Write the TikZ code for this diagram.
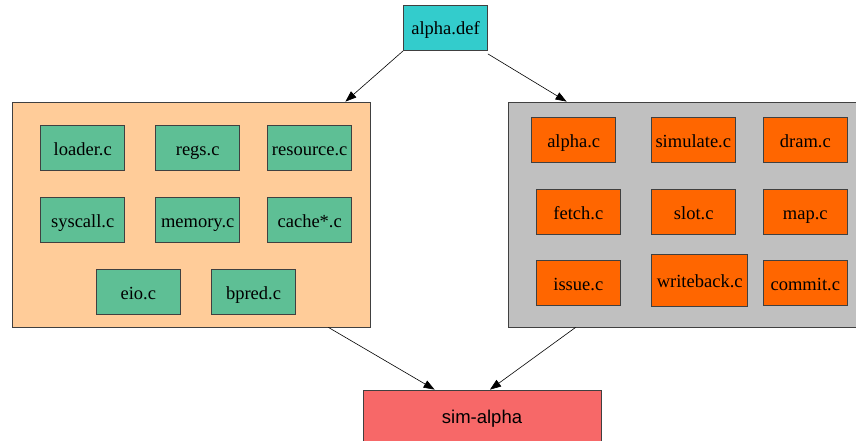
\documentclass[tikz,border=0pt]{standalone}
\usepackage{fontspec}
\setmainfont{Liberation Serif}
\newfontfamily\helv{Liberation Sans}
\usepackage{tikz}
\usetikzlibrary{arrows.meta}

\definecolor{defcol}{HTML}{33CCCC}
\definecolor{peach}{HTML}{FFCC99}
\definecolor{srcgreen}{HTML}{5EBF95}
\definecolor{clgray}{HTML}{C0C0C0}
\definecolor{srcorange}{HTML}{FF6600}
\definecolor{simred}{HTML}{F76868}

\begin{document}
\begin{tikzpicture}[x=1pt, y=-1pt,
  box/.style={draw=black!75, line width=0.8pt, inner sep=0pt, minimum width=84pt, minimum height=45pt,
    text height=15pt, text depth=1pt, font=\fontsize{18.5}{22}\selectfont},
  clus/.style={draw=black!75, line width=0.8pt, inner sep=0pt},
  common/.style={box, fill=srcgreen},
  core/.style={box, fill=srcorange},
  edge/.style={-{Triangle[length=11pt,width=8pt]}, line width=0.6pt}]
 \useasboundingbox (0,0) rectangle (856,441);

 % clusters
 \node[clus, fill=peach, minimum width=358pt, minimum height=225pt] (lclust) at (191,214.5) {};
 \node[clus, fill=clgray, minimum width=350pt, minimum height=225pt] (rclust) at (683,214.5) {};

 \node[box, fill=defcol] (adef) at (445.5,28) {alpha.def};
 \node[box, fill=simred, minimum width=238pt, minimum height=52pt, font=\helv\fontsize{18.5}{22}\selectfont] (sim) at (482,416) {sim-alpha};

 % left cluster files
 \node[common] (loader) at (82.7,148) {loader.c};
 \node[common] (regs) at (197.7,148) {regs.c};
 \node[common] (resource) at (309.7,148) {resource.c};
 \node[common] (syscall) at (82.7,220) {syscall.c};
 \node[common] (memory) at (197.7,220) {memory.c};
 \node[common] (cache) at (309.7,220) {cache*.c};
 \node[common] (eio) at (138.3,292) {eio.c};
 \node[common] (bpred) at (253.5,292) {bpred.c};

 % right cluster files
 \node[core] (alphac) at (573.7,140.3) {alpha.c};
 \node[core] (simulate) at (693.3,140.3) {simulate.c};
 \node[core] (dram) at (805.3,140.3) {dram.c};
 \node[core] (fetch) at (578.3,212.3) {fetch.c};
 \node[core] (slot) at (693.7,212.3) {slot.c};
 \node[core] (map) at (805.3,212.3) {map.c};
 \node[core] (issue) at (578.3,283) {issue.c};
 \node[core, minimum width=96pt, minimum height=52pt] (writeback) at (699.7,280) {writeback.c};
 \node[core] (commit) at (805.3,283) {commit.c};

 \draw[edge] (adef.south west) -- ([xshift=-25pt]lclust.north east);
 \draw[edge] ([yshift=-3pt]adef.south east) -- ([xshift=59pt]rclust.north west);
 \draw[edge] ([xshift=-42pt]lclust.south east) -- ([xshift=72pt]sim.north west);
 \draw[edge] ([xshift=68pt]rclust.south west) -- ([xshift=8pt]sim.north);
\end{tikzpicture}
\end{document}
